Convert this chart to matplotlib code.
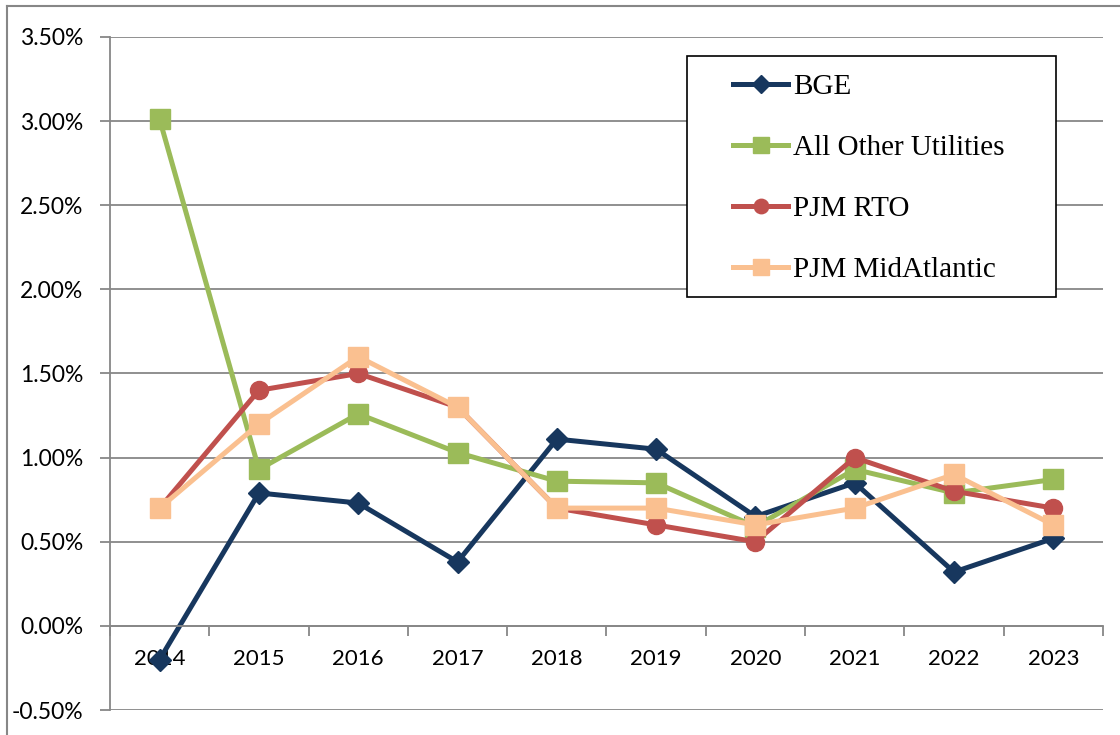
import matplotlib.pyplot as plt
from matplotlib.lines import Line2D
from matplotlib.patches import Rectangle
from matplotlib.ticker import FuncFormatter, MultipleLocator

years = ['2014', '2015', '2016', '2017', '2018', '2019', '2020', '2021', '2022', '2023']
bge = [-0.20, 0.79, 0.73, 0.38, 1.11, 1.05, 0.65, 0.85, 0.32, 0.52]
other_utilities = [3.01, 0.93, 1.26, 1.03, 0.86, 0.85, 0.59, 0.93, 0.79, 0.87]
pjm_rto = [0.70, 1.40, 1.50, 1.30, 0.70, 0.60, 0.50, 1.00, 0.80, 0.70]
pjm_midatlantic = [0.70, 1.20, 1.60, 1.30, 0.70, 0.70, 0.60, 0.70, 0.90, 0.60]

series = [
    ('BGE', bge, '#17375E', 'D', 11),
    ('All Other Utilities', other_utilities, '#9BBB59', 's', 14),
    ('PJM RTO', pjm_rto, '#C0504D', 'o', 13),
    ('PJM MidAtlantic', pjm_midatlantic, '#FAC090', 's', 14),
]

grid_color = '#878787'
W, H = 1120, 735

fig = plt.figure(figsize=(W / 100, H / 100), dpi=100)
ax = fig.add_axes([0.0982, 0.034, 0.8866, 0.9157])

x = range(len(years))
for name, vals, color, marker, ms in series:
    ax.plot(x, vals, color=color, lw=3.6, marker=marker, markersize=ms,
            label=name, solid_joinstyle='miter')

ax.set_xlim(-0.5, len(years) - 0.5)
ax.set_ylim(-0.5, 3.5)
ax.yaxis.set_major_locator(MultipleLocator(0.5))
ax.yaxis.set_major_formatter(FuncFormatter(lambda v, p: f'{v:.2f}%'))
ax.grid(axis='y', color=grid_color, lw=1.3)
ax.set_axisbelow(True)

for s in ['top', 'right']:
    ax.spines[s].set_visible(False)
ax.spines['left'].set_color(grid_color)
ax.spines['left'].set_linewidth(1.3)
ax.spines['bottom'].set_position(('data', 0))
ax.spines['bottom'].set_color(grid_color)
ax.spines['bottom'].set_linewidth(1.3)

ax.set_xticks(list(x))
ax.set_xticklabels(years)
ax.set_xticks([i - 0.5 for i in range(len(years) + 1)], minor=True)
ax.tick_params(axis='x', which='major', length=0, pad=17)
ax.tick_params(axis='x', which='minor', length=7, width=1.3, color=grid_color)
ax.tick_params(axis='y', length=7, width=1.3, color=grid_color, pad=12)
for lab in ax.get_xticklabels():
    lab.set_fontfamily('Lato')
    lab.set_fontsize(16)
for lab in ax.get_yticklabels():
    lab.set_fontfamily('Lato')
    lab.set_fontsize(16.5)

# legend box drawn separately so the padding can differ per side
fig.add_artist(Rectangle((687 / W, 1 - 297 / H), (1056 - 687) / W, (297 - 56) / H,
                         transform=fig.transFigure, fill=True, facecolor='white',
                         edgecolor='black', lw=1.2, zorder=5))
leg = fig.legend(*ax.get_legend_handles_labels(), loc='upper left',
                 bbox_to_anchor=(733 / W, 1 - 74 / H), frameon=False,
                 prop={'family': 'Liberation Serif', 'size': 21},
                 handlelength=1.9, handletextpad=0.15, labelspacing=1.18,
                 markerscale=0.8, borderpad=0, borderaxespad=0)
leg.set_zorder(6)

# chart area border
fig.add_artist(Line2D([7 / W, 7 / W], [0, 1 - 6 / H], color=grid_color, lw=1.5))
fig.add_artist(Line2D([7 / W, 1], [1 - 6 / H, 1 - 6 / H], color=grid_color, lw=1.5))

fig.savefig('out.png', dpi=100)
